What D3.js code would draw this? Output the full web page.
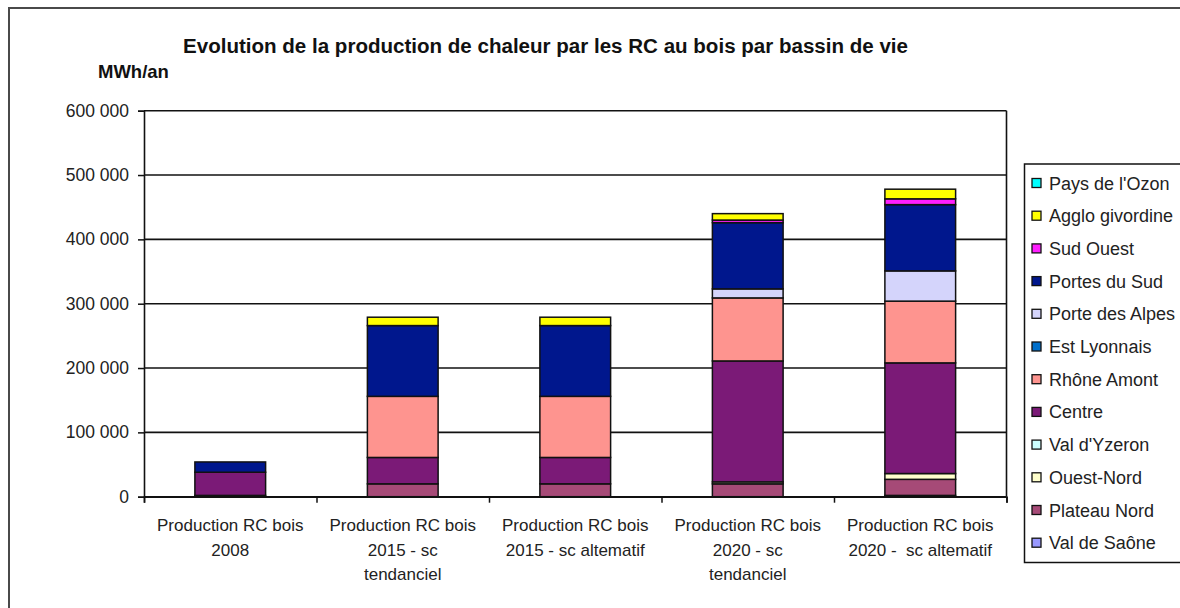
<!DOCTYPE html>
<html>
<head>
<meta charset="utf-8">
<title>RC bois par bassin de vie</title>
<script src="https://cdn.jsdelivr.net/npm/d3@7"></script>
<style>
  html, body { margin: 0; padding: 0; background: #fff; }
  svg { display: block; font-family: "Liberation Sans", Arial, sans-serif; }
</style>
</head>
<body>
<svg width="1180" height="608"></svg>
<script>
// categories (x axis labels, one entry per line)
var categories = [
  ["Production RC bois", "2008"],
  ["Production RC bois", "2015 - sc", "tendanciel"],
  ["Production RC bois", "2015 - sc altematif"],
  ["Production RC bois", "2020 - sc", "tendanciel"],
  ["Production RC bois", "2020 -  sc altematif"]
];

// series, from bottom of the stack to the top (MWh/an)
var seriesNames = ["Val de Saône", "Plateau Nord", "Ouest-Nord", "Val d'Yzeron", "Centre",
  "Rhône Amont", "Est Lyonnais", "Porte des Alpes", "Portes du Sud", "Sud Ouest",
  "Agglo givordine", "Pays de l'Ozon"];
var valDeSaone     = [0, 0, 0, 0, 2000];
var plateauNord    = [2000, 20000, 20000, 20000, 25000];
var ouestNord      = [0, 0, 0, 3000, 9000];
var valDYzeron     = [0, 0, 0, 0, 0];
var centre         = [36000, 41000, 41000, 188000, 172000];
var rhoneAmont     = [0, 95000, 95000, 98000, 96000];
var estLyonnais    = [0, 0, 0, 0, 0];
var porteDesAlpes  = [0, 0, 0, 14000, 47000];
var portesDuSud    = [16000, 110000, 110000, 103000, 103000];
var sudOuest       = [0, 0, 0, 4000, 9000];
var aggloGivordine = [0, 13000, 13000, 10000, 15000];
var paysDeLOzon    = [0, 0, 0, 0, 0];

var seriesColors = ["#9999ff", "#a64a77", "#ffffcc", "#ccffff", "#7b1a77",
  "#fe948f", "#0070cc", "#d4d4fb", "#00178d", "#ff1fff", "#ffff00", "#00ffff"];

var yTicks = [0, 100000, 200000, 300000, 400000, 500000, 600000];

var seriesValues = [valDeSaone, plateauNord, ouestNord, valDYzeron, centre, rhoneAmont,
  estLyonnais, porteDesAlpes, portesDuSud, sudOuest, aggloGivordine, paysDeLOzon];

// table for d3.stack
var table = categories.map(function (c, i) {
  var row = { key: i };
  seriesNames.forEach(function (s, k) { row[s] = seriesValues[k][i]; });
  return row;
});

var svg = d3.select("svg");

// outer chart frame
svg.append("rect")
  .attr("x", 9).attr("y", 8)
  .attr("width", 1200).attr("height", 640)
  .attr("fill", "none")
  .attr("stroke", "#4a4a4a")
  .attr("stroke-width", 2);

var plot = { left: 144, right: 1006.5, top: 110.7, bottom: 496.7 };

var x = d3.scaleBand()
  .domain(d3.range(categories.length))
  .range([plot.left, plot.right])
  .padding(0);

var y = d3.scaleLinear()
  .domain([0, 600000])
  .range([plot.bottom, plot.top]);

var barW = x.bandwidth() * 0.41;

// gridlines
svg.append("g")
  .selectAll("line")
  .data(yTicks)
  .enter()
  .append("line")
  .attr("x1", plot.left).attr("x2", plot.right)
  .attr("y1", function (d) { return y(d); })
  .attr("y2", function (d) { return y(d); })
  .attr("stroke", "#111")
  .attr("stroke-width", 1.6);

// right border of plot area
svg.append("line")
  .attr("x1", plot.right).attr("x2", plot.right)
  .attr("y1", plot.top).attr("y2", plot.bottom)
  .attr("stroke", "#111").attr("stroke-width", 1.6);

// stacked bars
var stack = d3.stack().keys(seriesNames);
var layers = stack(table);

var groups = svg.append("g").attr("class", "bars");
layers.forEach(function (layer, k) {
  groups.append("g")
    .selectAll("rect")
    .data(layer.filter(function (d) { return d[1] - d[0] > 0; }))
    .enter()
    .append("rect")
    .attr("x", function (d) { return x(d.data.key) + (x.bandwidth() - barW) / 2; })
    .attr("width", barW)
    .attr("y", function (d) { return y(d[1]); })
    .attr("height", function (d) { return y(d[0]) - y(d[1]); })
    .attr("fill", seriesColors[k])
    .attr("stroke", "#111")
    .attr("stroke-width", 1.5);
});

// y axis
var yAxis = d3.axisLeft(y)
  .tickValues(yTicks)
  .tickSize(6)
  .tickPadding(9)
  .tickFormat(function (d) { return d3.format(",")(d).replace(/,/g, " "); });

var gy = svg.append("g")
  .attr("transform", "translate(" + plot.left + ",0)")
  .call(yAxis);
gy.select(".domain").attr("stroke", "#111").attr("stroke-width", 1.6);
gy.selectAll(".tick line").attr("stroke", "#111").attr("stroke-width", 1.5);
gy.selectAll(".tick text")
  .attr("font-size", "17.5px")
  .attr("fill", "#222")
  .style("font-family", "'Liberation Sans', Arial, sans-serif");

// x axis (tick marks at category boundaries)
var xb = d3.scaleLinear().domain([0, categories.length]).range([plot.left, plot.right]);
var gx = svg.append("g")
  .attr("transform", "translate(0," + plot.bottom + ")")
  .call(d3.axisBottom(xb).ticks(categories.length).tickSize(6).tickFormat(""));
gx.select(".domain").attr("stroke", "#111").attr("stroke-width", 1.6);
gx.selectAll(".tick line").attr("stroke", "#111").attr("stroke-width", 1.5);

// category labels
var labels = svg.append("g");
categories.forEach(function (lines, i) {
  var t = labels.append("text")
    .attr("text-anchor", "middle")
    .attr("font-size", "17px")
    .attr("fill", "#222");
  lines.forEach(function (ln, j) {
    t.append("tspan")
      .attr("x", x(i) + x.bandwidth() / 2)
      .attr("y", 531 + j * 24.5)
      .style("white-space", "pre")
      .text(ln);
  });
});

// title
svg.append("text")
  .attr("x", 545.5).attr("y", 53)
  .attr("text-anchor", "middle")
  .attr("font-size", "20px")
  .attr("font-weight", "bold")
  .attr("fill", "#111")
  .attr("textLength", 725)
  .attr("lengthAdjust", "spacingAndGlyphs")
  .text("Evolution de la production de chaleur par les RC au bois par bassin de vie");

// unit
svg.append("text")
  .attr("x", 98).attr("y", 78)
  .attr("font-size", "18.5px")
  .attr("font-weight", "bold")
  .attr("fill", "#111")
  .text("MWh/an");

// legend (top item = last series)
var legend = svg.append("g");
legend.append("rect")
  .attr("x", 1024.5).attr("y", 164)
  .attr("width", 200).attr("height", 398.5)
  .attr("fill", "#fff")
  .attr("stroke", "#111")
  .attr("stroke-width", 1.5);

var legendItems = seriesNames.map(function (s, k) { return { name: s, color: seriesColors[k] }; }).reverse();
var li = legend.selectAll("g.item")
  .data(legendItems)
  .enter()
  .append("g")
  .attr("class", "item")
  .attr("transform", function (d, i) { return "translate(1032," + (183 + i * 32.7) + ")"; });
li.append("rect")
  .attr("x", 0).attr("y", -4.5)
  .attr("width", 9).attr("height", 9)
  .attr("fill", function (d) { return d.color; })
  .attr("stroke", "#111")
  .attr("stroke-width", 1.3);
li.append("text")
  .attr("x", 17).attr("y", 6.5)
  .attr("font-size", "18px")
  .attr("fill", "#222")
  .text(function (d) { return d.name; });
</script>
</body>
</html>
